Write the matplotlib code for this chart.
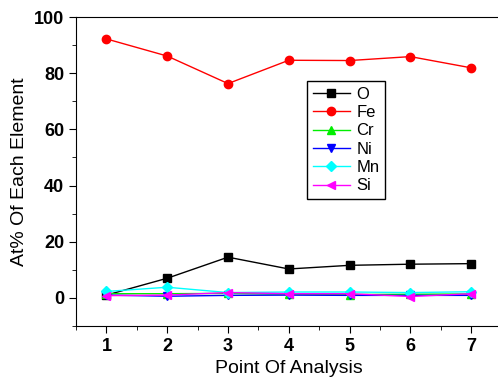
import matplotlib
matplotlib.use('Agg')
import matplotlib.pyplot as plt
from matplotlib.ticker import MultipleLocator

plt.rcParams['font.family'] = ['Liberation Sans', 'DejaVu Sans']

points = [1, 2, 3, 4, 5, 6, 7]
o_vals = [1.0, 7.0, 14.5, 10.3, 11.6, 12.0, 12.2]
fe_vals = [92.2, 86.1, 76.3, 84.6, 84.5, 85.9, 81.9]
cr_vals = [1.5, 1.5, 1.6, 1.3, 1.2, 1.3, 1.4]
ni_vals = [1.0, 0.6, 0.9, 1.0, 0.9, 0.9, 0.9]
mn_vals = [2.3, 3.8, 1.9, 2.1, 2.1, 1.9, 2.2]
si_vals = [0.8, 1.0, 1.9, 1.5, 1.5, 0.5, 1.5]

fig = plt.figure(figsize=(4.98, 3.80), dpi=100)
ax = fig.add_axes([76 / 498, 54 / 380, 425.6 / 498, 309 / 380])

# element, values, colour, marker
series = [
    ('O', o_vals, 'black', 's'),
    ('Fe', fe_vals, 'red', 'o'),
    ('Cr', cr_vals, '#00ee00', '^'),
    ('Ni', ni_vals, 'blue', 'v'),
    ('Mn', mn_vals, 'cyan', 'D'),
    ('Si', si_vals, 'magenta', '<'),
]
for name, vals, col, mk in series:
    ms = 5 if mk == 'D' else 6
    ax.plot(points, vals, color=col, marker=mk, markersize=ms, linewidth=1.0, label=name)

ax.set_xlim(0.5, 7.5)
ax.set_ylim(-10, 100)
ax.xaxis.set_major_locator(MultipleLocator(1))
ax.xaxis.set_minor_locator(MultipleLocator(0.5))
ax.yaxis.set_major_locator(MultipleLocator(20))
ax.yaxis.set_minor_locator(MultipleLocator(10))
ax.tick_params(which='both', direction='out', labelsize=13)
ax.tick_params(which='major', length=5)
ax.tick_params(which='minor', length=3)
for lbl in ax.get_xticklabels() + ax.get_yticklabels():
    lbl.set_fontweight('bold')
ax.spines['right'].set_visible(False)

ax.set_xlabel('Point Of Analysis', fontsize=14)
ax.set_ylabel('At% Of Each Element', fontsize=14)

leg = ax.legend(loc='upper left', bbox_to_anchor=(0.543, 0.793), fontsize=12,
                fancybox=False, framealpha=1, edgecolor='black',
                handlelength=2.2, handletextpad=0.4, labelspacing=0.2,
                borderpad=0.35, borderaxespad=0)
leg.get_frame().set_linewidth(1.0)

fig.savefig('out.png', dpi=100)
